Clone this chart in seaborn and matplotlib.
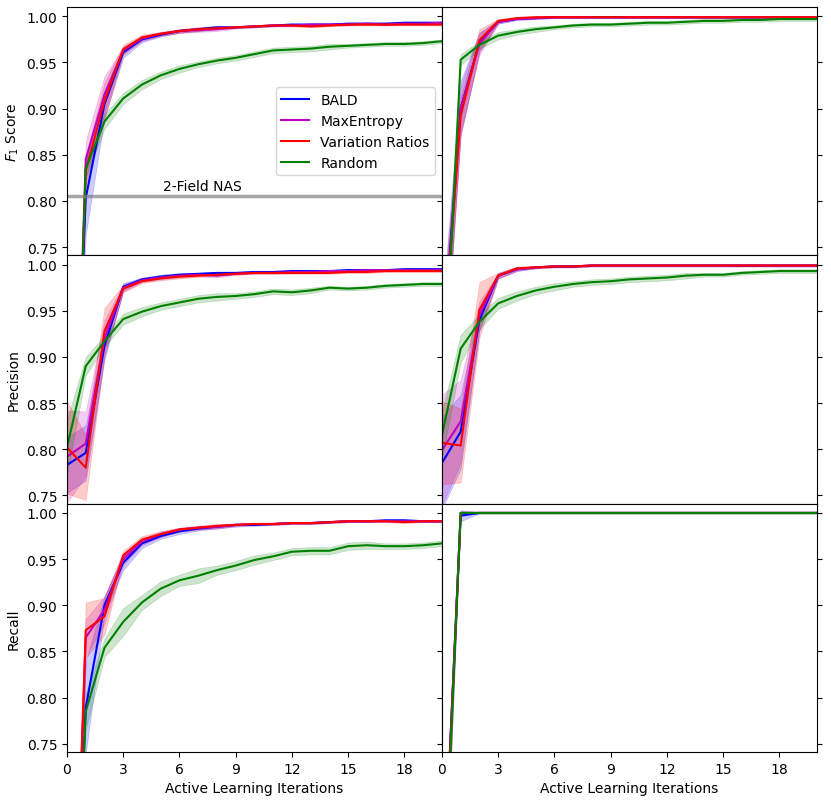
import numpy as np
import pandas as pd
import matplotlib
matplotlib.use("Agg")
import matplotlib.pyplot as plt
import seaborn as sns

iterations = list(range(21))
methods = ["BALD", "MaxEntropy", "Variation Ratios", "Random"]
colors = ["b", "m", "r", "g"]
metric_labels = ["$F_1$ Score", "Precision", "Recall"]

# ---- dataset A (left column) ----
f1_a_bald = [0.30, 0.803, 0.905, 0.961, 0.975, 0.980, 0.984, 0.986, 0.988, 0.988, 0.989, 0.990, 0.991, 0.991, 0.991, 0.992, 0.992, 0.992, 0.993, 0.993, 0.993]
f1_a_maxent = [0.22, 0.845, 0.915, 0.963, 0.976, 0.981, 0.984, 0.985, 0.986, 0.988, 0.989, 0.990, 0.990, 0.991, 0.991, 0.991, 0.992, 0.991, 0.992, 0.992, 0.993]
f1_a_varrat = [0.22, 0.833, 0.908, 0.964, 0.977, 0.981, 0.984, 0.986, 0.987, 0.988, 0.989, 0.990, 0.990, 0.989, 0.990, 0.991, 0.991, 0.991, 0.991, 0.991, 0.991]
f1_a_random = [0.21, 0.835, 0.886, 0.911, 0.926, 0.936, 0.943, 0.948, 0.952, 0.955, 0.959, 0.963, 0.964, 0.965, 0.967, 0.968, 0.969, 0.970, 0.970, 0.971, 0.973]

f1_a_bald_sd = [0.05, 0.04, 0.015, 0.006, 0.003, 0.002, 0.002, 0.002, 0.002, 0.001, 0.001, 0.001, 0.001, 0.001, 0.001, 0.001, 0.001, 0.001, 0.001, 0.001, 0.001]
f1_a_maxent_sd = [0.05, 0.02, 0.02, 0.004, 0.003, 0.002, 0.002, 0.002, 0.002, 0.001, 0.001, 0.001, 0.001, 0.001, 0.001, 0.001, 0.001, 0.001, 0.001, 0.001, 0.001]
f1_a_varrat_sd = [0.05, 0.015, 0.02, 0.005, 0.003, 0.002, 0.002, 0.002, 0.001, 0.001, 0.001, 0.001, 0.001, 0.001, 0.001, 0.001, 0.001, 0.001, 0.001, 0.001, 0.001]
f1_a_random_sd = [0.05, 0.01, 0.008, 0.006, 0.005, 0.004, 0.004, 0.003, 0.003, 0.003, 0.003, 0.003, 0.003, 0.003, 0.003, 0.002, 0.002, 0.002, 0.002, 0.002, 0.002]

pr_a_bald = [0.783, 0.796, 0.912, 0.976, 0.984, 0.987, 0.989, 0.990, 0.991, 0.991, 0.992, 0.992, 0.993, 0.993, 0.993, 0.994, 0.994, 0.994, 0.995, 0.995, 0.995]
pr_a_maxent = [0.792, 0.806, 0.920, 0.975, 0.983, 0.986, 0.988, 0.989, 0.988, 0.990, 0.991, 0.991, 0.992, 0.992, 0.993, 0.993, 0.994, 0.994, 0.994, 0.994, 0.994]
pr_a_varrat = [0.802, 0.780, 0.928, 0.974, 0.982, 0.985, 0.987, 0.988, 0.989, 0.990, 0.991, 0.991, 0.991, 0.991, 0.991, 0.992, 0.992, 0.993, 0.993, 0.993, 0.993]
pr_a_random = [0.802, 0.890, 0.917, 0.941, 0.949, 0.955, 0.959, 0.963, 0.965, 0.966, 0.968, 0.971, 0.970, 0.972, 0.975, 0.974, 0.975, 0.977, 0.978, 0.979, 0.979]

pr_a_bald_sd = [0.03, 0.03, 0.015, 0.004, 0.002, 0.002, 0.002, 0.001, 0.001, 0.001, 0.001, 0.001, 0.001, 0.001, 0.001, 0.001, 0.001, 0.001, 0.001, 0.001, 0.001]
pr_a_maxent_sd = [0.05, 0.035, 0.02, 0.004, 0.002, 0.002, 0.002, 0.002, 0.002, 0.001, 0.001, 0.001, 0.001, 0.001, 0.001, 0.001, 0.001, 0.001, 0.001, 0.001, 0.001]
pr_a_varrat_sd = [0.05, 0.035, 0.025, 0.004, 0.002, 0.002, 0.002, 0.001, 0.001, 0.001, 0.001, 0.001, 0.001, 0.001, 0.001, 0.001, 0.001, 0.001, 0.001, 0.001, 0.001]
pr_a_random_sd = [0.03, 0.01, 0.006, 0.006, 0.005, 0.004, 0.004, 0.004, 0.004, 0.003, 0.003, 0.003, 0.003, 0.003, 0.002, 0.002, 0.002, 0.002, 0.002, 0.002, 0.002]

re_a_bald = [0.30, 0.789, 0.900, 0.946, 0.967, 0.975, 0.980, 0.983, 0.985, 0.987, 0.987, 0.988, 0.989, 0.989, 0.990, 0.991, 0.991, 0.992, 0.992, 0.991, 0.991]
re_a_maxent = [0.27, 0.865, 0.895, 0.950, 0.969, 0.977, 0.982, 0.984, 0.985, 0.987, 0.988, 0.988, 0.989, 0.989, 0.990, 0.991, 0.991, 0.991, 0.991, 0.991, 0.991]
re_a_varrat = [0.27, 0.873, 0.888, 0.954, 0.971, 0.977, 0.982, 0.984, 0.986, 0.987, 0.988, 0.988, 0.989, 0.989, 0.990, 0.991, 0.991, 0.991, 0.990, 0.991, 0.991]
re_a_random = [0.30, 0.785, 0.854, 0.882, 0.903, 0.918, 0.927, 0.932, 0.938, 0.943, 0.949, 0.953, 0.958, 0.959, 0.959, 0.964, 0.965, 0.964, 0.964, 0.965, 0.967]

re_a_bald_sd = [0.05, 0.05, 0.01, 0.008, 0.005, 0.003, 0.003, 0.002, 0.002, 0.002, 0.001, 0.001, 0.001, 0.001, 0.001, 0.001, 0.001, 0.001, 0.001, 0.001, 0.001]
re_a_maxent_sd = [0.05, 0.02, 0.015, 0.006, 0.004, 0.003, 0.002, 0.002, 0.002, 0.001, 0.001, 0.001, 0.001, 0.001, 0.001, 0.001, 0.001, 0.001, 0.001, 0.001, 0.001]
re_a_varrat_sd = [0.05, 0.03, 0.02, 0.005, 0.004, 0.003, 0.002, 0.002, 0.002, 0.001, 0.001, 0.001, 0.001, 0.001, 0.001, 0.001, 0.001, 0.001, 0.001, 0.001, 0.001]
re_a_random_sd = [0.05, 0.02, 0.01, 0.015, 0.008, 0.008, 0.006, 0.008, 0.005, 0.005, 0.005, 0.004, 0.004, 0.004, 0.004, 0.004, 0.004, 0.003, 0.003, 0.003, 0.003]

# ---- dataset B (right column) ----
f1_b_bald = [0.63, 0.900, 0.972, 0.994, 0.997, 0.998, 0.999, 0.999, 0.999, 0.999, 0.999, 0.999, 0.999, 0.999, 0.999, 0.999, 0.999, 0.999, 0.999, 0.999, 0.999]
f1_b_maxent = [0.62, 0.900, 0.970, 0.994, 0.997, 0.998, 0.999, 0.999, 0.999, 0.999, 0.999, 0.999, 0.999, 0.999, 0.999, 0.999, 0.999, 0.999, 0.999, 0.999, 0.999]
f1_b_varrat = [0.62, 0.892, 0.974, 0.995, 0.998, 0.999, 0.999, 0.999, 0.999, 0.999, 0.999, 0.999, 0.999, 0.999, 0.999, 0.999, 0.999, 0.999, 0.999, 0.999, 0.999]
f1_b_random = [0.55, 0.953, 0.969, 0.979, 0.983, 0.986, 0.988, 0.990, 0.991, 0.991, 0.992, 0.993, 0.993, 0.994, 0.995, 0.995, 0.996, 0.996, 0.997, 0.997, 0.997]

f1_b_bald_sd = [0.05, 0.03, 0.01, 0.002, 0.001, 0.001, 0.001, 0.001, 0.001, 0.001, 0.001, 0.001, 0.001, 0.001, 0.001, 0.001, 0.001, 0.001, 0.001, 0.001, 0.001]
f1_b_maxent_sd = [0.05, 0.025, 0.012, 0.002, 0.001, 0.001, 0.001, 0.001, 0.001, 0.001, 0.001, 0.001, 0.001, 0.001, 0.001, 0.001, 0.001, 0.001, 0.001, 0.001, 0.001]
f1_b_varrat_sd = [0.05, 0.02, 0.012, 0.002, 0.001, 0.001, 0.001, 0.001, 0.001, 0.001, 0.001, 0.001, 0.001, 0.001, 0.001, 0.001, 0.001, 0.001, 0.001, 0.001, 0.001]
f1_b_random_sd = [0.05, 0.006, 0.004, 0.004, 0.003, 0.003, 0.002, 0.002, 0.002, 0.002, 0.002, 0.002, 0.002, 0.002, 0.002, 0.002, 0.002, 0.002, 0.002, 0.002, 0.002]

pr_b_bald = [0.785, 0.819, 0.940, 0.988, 0.995, 0.997, 0.998, 0.998, 0.999, 0.999, 0.999, 0.999, 0.999, 0.999, 0.999, 0.999, 0.999, 0.999, 0.999, 0.999, 0.999]
pr_b_maxent = [0.799, 0.830, 0.945, 0.988, 0.995, 0.997, 0.998, 0.998, 0.999, 0.999, 0.999, 0.999, 0.999, 0.999, 0.999, 0.999, 0.999, 0.999, 0.999, 0.999, 0.999]
pr_b_varrat = [0.807, 0.804, 0.951, 0.988, 0.996, 0.997, 0.998, 0.998, 0.999, 0.999, 0.999, 0.999, 0.999, 0.999, 0.999, 0.999, 0.999, 0.999, 0.999, 0.999, 0.999]
pr_b_random = [0.815, 0.909, 0.938, 0.958, 0.966, 0.972, 0.976, 0.979, 0.981, 0.982, 0.984, 0.985, 0.986, 0.988, 0.989, 0.989, 0.991, 0.992, 0.993, 0.993, 0.993]

pr_b_bald_sd = [0.05, 0.04, 0.012, 0.003, 0.002, 0.001, 0.001, 0.001, 0.001, 0.001, 0.001, 0.001, 0.001, 0.001, 0.001, 0.001, 0.001, 0.001, 0.001, 0.001, 0.001]
pr_b_maxent_sd = [0.06, 0.045, 0.015, 0.003, 0.002, 0.001, 0.001, 0.001, 0.001, 0.001, 0.001, 0.001, 0.001, 0.001, 0.001, 0.001, 0.001, 0.001, 0.001, 0.001, 0.001]
pr_b_varrat_sd = [0.045, 0.04, 0.03, 0.003, 0.002, 0.001, 0.001, 0.001, 0.001, 0.001, 0.001, 0.001, 0.001, 0.001, 0.001, 0.001, 0.001, 0.001, 0.001, 0.001, 0.001]
pr_b_random_sd = [0.025, 0.015, 0.008, 0.006, 0.005, 0.004, 0.004, 0.003, 0.003, 0.003, 0.003, 0.003, 0.003, 0.003, 0.002, 0.002, 0.002, 0.002, 0.002, 0.002, 0.002]

re_b_bald = [0.55, 0.997, 1.0, 1.0, 1.0, 1.0, 1.0, 1.0, 1.0, 1.0, 1.0, 1.0, 1.0, 1.0, 1.0, 1.0, 1.0, 1.0, 1.0, 1.0, 1.0]
re_b_maxent = [0.55, 1.0, 1.0, 1.0, 1.0, 1.0, 1.0, 1.0, 1.0, 1.0, 1.0, 1.0, 1.0, 1.0, 1.0, 1.0, 1.0, 1.0, 1.0, 1.0, 1.0]
re_b_varrat = [0.54, 1.0, 1.0, 1.0, 1.0, 1.0, 1.0, 1.0, 1.0, 1.0, 1.0, 1.0, 1.0, 1.0, 1.0, 1.0, 1.0, 1.0, 1.0, 1.0, 1.0]
re_b_random = [0.53, 1.0, 1.0, 1.0, 1.0, 1.0, 1.0, 1.0, 1.0, 1.0, 1.0, 1.0, 1.0, 1.0, 1.0, 1.0, 1.0, 1.0, 1.0, 1.0, 1.0]

re_b_bald_sd = [0.05, 0.006, 0.0005, 0.0005, 0.0005, 0.0005, 0.0005, 0.0005, 0.0005, 0.0005, 0.0005, 0.0005, 0.0005, 0.0005, 0.0005, 0.0005, 0.0005, 0.0005, 0.0005, 0.0005, 0.0005]
re_b_maxent_sd = [0.05, 0.001, 0.0005, 0.0005, 0.0005, 0.0005, 0.0005, 0.0005, 0.0005, 0.0005, 0.0005, 0.0005, 0.0005, 0.0005, 0.0005, 0.0005, 0.0005, 0.0005, 0.0005, 0.0005, 0.0005]
re_b_varrat_sd = [0.05, 0.001, 0.0005, 0.0005, 0.0005, 0.0005, 0.0005, 0.0005, 0.0005, 0.0005, 0.0005, 0.0005, 0.0005, 0.0005, 0.0005, 0.0005, 0.0005, 0.0005, 0.0005, 0.0005, 0.0005]
re_b_random_sd = [0.05, 0.001, 0.001, 0.001, 0.001, 0.001, 0.001, 0.001, 0.001, 0.001, 0.001, 0.001, 0.001, 0.001, 0.001, 0.001, 0.001, 0.001, 0.001, 0.001, 0.001]

nas_baseline = 0.805

grid = [
    [(f1_a_bald, f1_a_maxent, f1_a_varrat, f1_a_random), (f1_b_bald, f1_b_maxent, f1_b_varrat, f1_b_random)],
    [(pr_a_bald, pr_a_maxent, pr_a_varrat, pr_a_random), (pr_b_bald, pr_b_maxent, pr_b_varrat, pr_b_random)],
    [(re_a_bald, re_a_maxent, re_a_varrat, re_a_random), (re_b_bald, re_b_maxent, re_b_varrat, re_b_random)],
]
grid_sd = [
    [(f1_a_bald_sd, f1_a_maxent_sd, f1_a_varrat_sd, f1_a_random_sd), (f1_b_bald_sd, f1_b_maxent_sd, f1_b_varrat_sd, f1_b_random_sd)],
    [(pr_a_bald_sd, pr_a_maxent_sd, pr_a_varrat_sd, pr_a_random_sd), (pr_b_bald_sd, pr_b_maxent_sd, pr_b_varrat_sd, pr_b_random_sd)],
    [(re_a_bald_sd, re_a_maxent_sd, re_a_varrat_sd, re_a_random_sd), (re_b_bald_sd, re_b_maxent_sd, re_b_varrat_sd, re_b_random_sd)],
]

fig, axes = plt.subplots(3, 2, figsize=(8.31, 8.04), dpi=100, sharex=True, sharey=True)
plt.subplots_adjust(left=0.0806, right=0.983, top=0.990, bottom=0.0634, hspace=0, wspace=0)

for r in range(3):
    for c in range(2):
        ax = axes[r, c]
        rows = []
        for m, vals, sds in zip(methods, grid[r][c], grid_sd[r][c]):
            for it, v, s in zip(iterations, vals, sds):
                rows.append({"iteration": it, "value": v, "sd": s, "method": m})
        df = pd.DataFrame(rows)

        # bands first so the mean lines sit on top
        for m, col in zip(methods, colors):
            sub = df[df["method"] == m]
            ax.fill_between(sub["iteration"], sub["value"] - sub["sd"], sub["value"] + sub["sd"],
                            color=col, alpha=0.2, linewidth=0.5)

        sns.lineplot(data=df, x="iteration", y="value", hue="method", hue_order=methods,
                     palette=colors, errorbar=None, linewidth=1.5, ax=ax,
                     legend=(r == 0 and c == 0))

        ax.set_xlim(0, 20)
        ax.set_ylim(0.741, 1.01)
        ax.set_xticks(range(0, 19, 3))
        ax.set_yticks([0.75, 0.80, 0.85, 0.90, 0.95, 1.00])
        ax.set_xlabel("Active Learning Iterations" if r == 2 else "")
        ax.set_ylabel(metric_labels[r] if c == 0 else "")
        if r < 2:
            ax.tick_params(axis="x", bottom=False, labelbottom=False)
        if c == 1:
            ax.tick_params(axis="y", left=True, right=True, labelleft=False)

ax0 = axes[0, 0]
ax0.axhline(nas_baseline, color="grey", linewidth=2.5, alpha=0.7)
ax0.text(5.1, nas_baseline + 0.004, "2-Field NAS", fontsize=10, va="bottom")
handles, labels = ax0.get_legend_handles_labels()
ax0.legend(handles[:4], labels[:4], loc="center right")

fig.savefig("out.png", dpi=100)
